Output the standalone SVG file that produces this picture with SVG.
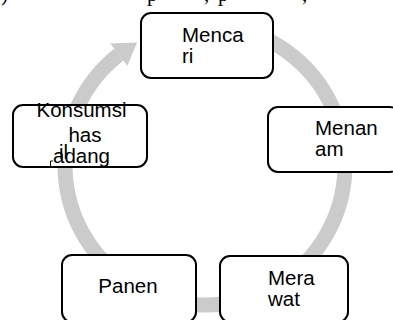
<svg xmlns="http://www.w3.org/2000/svg" width="393" height="320" viewBox="0 0 393 320">
<style>
.node rect{fill:#fff;stroke:#000;stroke-width:2}
.t{font-family:"Liberation Sans",Arial,sans-serif;font-size:20.5px;fill:#000}
.frag{font-family:"Liberation Serif","Times New Roman",serif;font-size:21px;fill:#000}
.ring{fill:none;stroke:#CBCBCB;stroke-width:15}
</style>
<rect width="393" height="320" fill="#fff"/>
<g id="top-line">
<text class="frag" x="1" y="0.5">)</text>
<text class="frag" x="147" y="0.5">p</text>
<text class="frag" x="204" y="0.5">,</text>
<text class="frag" x="218" y="0.5">p</text>
<text class="frag" x="302" y="0.5">,</text>
</g>
<g id="connectors">
<path class="ring" d="M152.6,35.2 A140,140 0 1 1 118.8,54.7"/>
<polygon points="110.2,43.6 137.1,42.6 127.4,65.7" fill="#CBCBCB"/>
</g>
<g id="mencari" class="node">
<rect x="141" y="13" width="132" height="65" rx="10"/>
<text class="t" x="182" y="42">Menca</text>
<text class="t" x="182" y="63">ri</text>
</g>
<g id="menanam" class="node">
<rect x="268" y="107" width="132" height="65" rx="10"/>
<text class="t" x="315" y="135">Menan</text>
<text class="t" x="315" y="156">am</text>
</g>
<g id="merawat" class="node">
<rect x="220" y="256" width="128" height="66" rx="10"/>
<text class="t" x="268" y="285">Mera</text>
<text class="t" x="268" y="306">wat</text>
</g>
<g id="panen" class="node">
<rect x="62" y="255" width="134" height="67" rx="10"/>
<text class="t" x="128" y="293" text-anchor="middle">Panen</text>
</g>
<g id="konsumsi" class="node">
<rect x="13" y="105" width="134" height="62" rx="10"/>
<text class="t" x="81.5" y="117" text-anchor="middle">Konsumsi</text>
<text class="t" x="85" y="142" text-anchor="middle">has</text>
<text class="t" x="59" y="159">il</text>
<text class="t" x="53" y="163">adang</text>
<path d="M50.5,168 V161 H53" fill="none" stroke="#000" stroke-width="1"/>
</g>
</svg>
